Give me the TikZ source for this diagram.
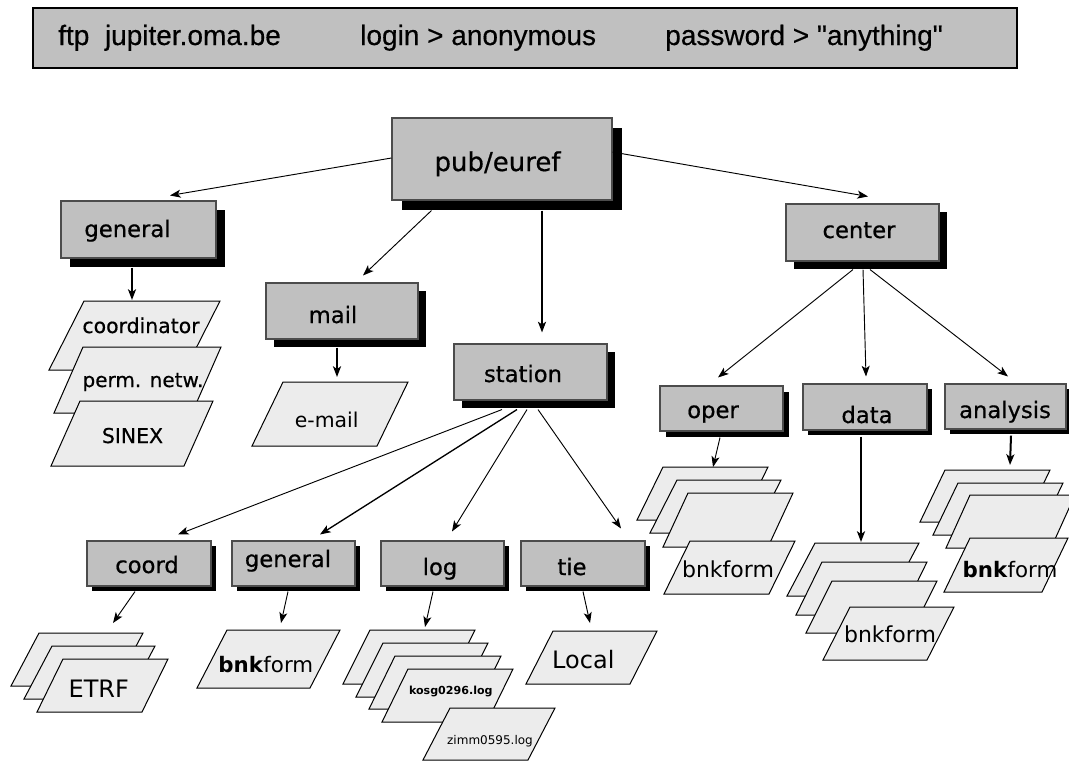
\documentclass[tikz,border=0pt]{standalone}
\usepackage{fontspec}
\setmainfont{DejaVu Sans}
\newfontfamily\medfont[FakeBold=0.6]{DejaVu Sans}
\newfontfamily\bannerfont[FakeBold=0.4]{Liberation Sans}
\usetikzlibrary{arrows.meta,calc,shadows}
\definecolor{boxgray}{HTML}{C0C0C0}
\definecolor{pgfill}{HTML}{ECECEC}
\newcommand\pgram[5]{\draw[pgs] (#1,#2) -- ++(#3,0) -- ++(-#5,#4) -- ++(-#3,0) -- cycle;}
\tikzset{
  banner/.style={draw=black, line width=1.6pt, fill=boxgray, inner sep=0pt},
  bt/.style={font=\bannerfont\fontsize{21}{25}\selectfont, inner sep=0pt, anchor=base west},
  gbox/.style={draw=black!70, line width=0.8pt, fill=boxgray, inner sep=0pt,
    drop shadow={shadow xshift=#1, shadow yshift=-#1, fill=black, opacity=1}},
  lbl/.style={font=\medfont\fontsize{17}{20}\selectfont, inner sep=0pt, anchor=base},
  plbl/.style={font=\fontsize{15.3}{18}\selectfont, inner sep=0pt, anchor=base},
  pgs/.style={draw=black, fill=pgfill, line width=0.75pt, line join=miter},
  arr/.style={-{Stealth[length=8pt,width=6pt,inset=2pt]}, line width=0.7pt},
  arrT/.style={arr, line width=1.5pt}
}
\begin{document}
\begin{tikzpicture}[x=0.75pt,y=-0.75pt]
\useasboundingbox (0,0) rectangle (1069,760);
\fill[white] (0,0) rectangle (1069,760);

% banner
\node[banner, minimum width=738pt, minimum height=45pt] (ban) at (525,38) {};
\node[bt] (ftp) at (58,45) {ftp\ \ jupiter.oma.be};
\node[bt] (login) at (360,45) {login > anonymous};
\node[bt] (pw) at (665,45) {password > "anything"};

% directory boxes
\node[gbox=7.5pt, minimum width=165pt, minimum height=61.5pt] (pub) at (502,159) {};
\node[lbl, font=\medfont\fontsize{19.5}{23}\selectfont] (pubL) at ($(pub.center)+(-4.5,12)$) {pub/euref};

\node[gbox=6.75pt, minimum width=116.25pt, minimum height=42.75pt] (gen1) at (138.5,229.5) {};
\node[lbl] (gen1L) at ($(gen1.center)+(-11,7.5)$) {general};

\node[gbox=6pt, minimum width=114pt, minimum height=42pt] (mail) at (342,311) {};
\node[lbl] (mailL) at ($(mail.center)+(-9,12)$) {mail};

\node[gbox=6pt, minimum width=114.75pt, minimum height=42pt] (station) at (530.5,372) {};
\node[lbl] (stationL) at ($(station.center)+(-7.5,10)$) {station};

\node[gbox=6pt, minimum width=114.75pt, minimum height=42.75pt] (center) at (862.5,232.5) {};
\node[lbl] (centerL) at ($(center.center)+(-3.5,5.5)$) {center};

\node[gbox=4.5pt, minimum width=92.25pt, minimum height=33.75pt] (oper) at (721.5,408.5) {};
\node[lbl] (operL) at ($(oper.center)+(-8.5,9.5)$) {oper};

\node[gbox=4.1pt, minimum width=93pt, minimum height=34.5pt] (data) at (865,407) {};
\node[lbl] (dataL) at ($(data.center)+(2,16)$) {data};

\node[gbox=3.75pt, minimum width=90.75pt, minimum height=33.75pt] (analysis) at (1005.5,406.5) {};
\node[lbl] (analysisL) at ($(analysis.center)+(-0.5,11.5)$) {analysis};

\node[gbox=3.75pt, minimum width=93pt, minimum height=33.75pt] (coord) at (149,563.5) {};
\node[lbl] (coordL) at ($(coord.center)+(-2,9.5)$) {coord};

\node[gbox=3.75pt, minimum width=92.25pt, minimum height=33.75pt] (gen2) at (293.5,563.5) {};
\node[lbl] (gen2L) at ($(gen2.center)+(-5.5,3.5)$) {general};

\node[gbox=4.1pt, minimum width=92.25pt, minimum height=33.75pt] (log) at (442.5,563.5) {};
\node[lbl] (logL) at ($(log.center)+(-2.5,11.5)$) {log};

\node[gbox=3.75pt, minimum width=93pt, minimum height=33.75pt] (tie) at (583,563.5) {};
\node[lbl] (tieL) at ($(tie.center)+(-11,11.5)$) {tie};

% file stacks: general
\pgram{84}{301}{136}{69}{35}
\node[plbl, font=\medfont\fontsize{15.3}{18}\selectfont] (coordinator) at (141,333) {coordinator};
\pgram{83}{347}{138}{66}{29}
\node[plbl, font=\medfont\fontsize{15}{18}\selectfont] (permnetw) at (143,387) {perm. netw.};
\pgram{80}{401}{133}{65}{29}
\node[plbl, font=\medfont\fontsize{15.3}{18}\selectfont] (sinex) at (132.5,443) {SINEX};

% mail
\pgram{283}{382}{125}{64}{31}
\node[plbl] (email) at (326.7,427) {e-mail};

% oper
\pgram{663}{467}{105}{53}{26}
\pgram{677}{480}{104}{53}{27}
\pgram{688}{493}{105}{54}{25}
\pgram{690}{541}{105}{53}{26}
\node[plbl, font=\fontsize{16.5}{19}\selectfont] (operbnk) at (728,577) {bnkform};

% data
\pgram{815}{543}{104}{53}{28}
\pgram{822}{562}{105}{53}{26}
\pgram{832}{581}{105}{52}{26}
\pgram{850}{607}{104}{53}{27}
\node[plbl, font=\fontsize{16.5}{19}\selectfont] (databnk) at (890,642) {bnkform};

% analysis
\pgram{945}{470}{105}{52}{25}
\pgram{958}{483}{105}{52}{25}
\pgram{970}{495}{105}{53}{24}
\pgram{970}{538}{98}{54}{26}
\node[plbl, font=\fontsize{16}{19}\selectfont] (anabnk) at (1010,577) {\textbf{bnk}form};

% coord
\pgram{39}{633}{104}{53}{28}
\pgram{52}{646}{103}{53}{28}
\pgram{63}{659}{105}{53}{26}
\node[plbl, font=\fontsize{18}{21}\selectfont] (etrf) at (98.8,697) {ETRF};

% general (station)
\pgram{227}{630}{113}{58}{30}
\node[plbl, font=\fontsize{16}{19}\selectfont] (g2bnk) at (265.8,672) {\textbf{bnk}form};

% log
\pgram{370}{630}{105}{54}{27}
\pgram{383}{643}{105}{54}{27}
\pgram{395}{656}{106}{53}{26}
\pgram{408}{669}{105}{53}{26}
\node[plbl, font=\bfseries\fontsize{8.3}{10}\selectfont] (kosg) at (450.8,694) {kosg0296.log};
\pgram{450}{708}{105}{52}{27}
\node[plbl, font=\fontsize{9}{11}\selectfont] (zimm) at (490,744) {zimm0595.log};

% tie
\pgram{553}{631}{104}{53}{27}
\node[plbl, font=\fontsize{18}{21}\selectfont] (local) at (583.3,668) {Local};

% arrow targets on the file stacks
\coordinate (coordIn) at (132,300);
\coordinate (emailIn) at (337,377);
\coordinate (operIn) at (713,467);
\coordinate (dataIn) at (861,542);
\coordinate (anaIn) at (1010,465);
\coordinate (etrfIn) at (113,623);
\coordinate (g2In) at (281,623);
\coordinate (logIn) at (425,627);
\coordinate (localIn) at (590,623);

% connectors
\draw[arr] ($(pub.west)+(0,-1)$) -- ($(gen1.north)+(31.5,-5)$);
\draw[arr] ($(pub.south west)+(40,10)$) -- ($(mail.north)+(21,-7)$);
\draw[arrT] ($(pub.south)+(40,10)$) -- ($(station.north)+(11.5,-11)$);
\draw[arr] ($(pub.east)+(0,-7)$) -- ($(center.north)+(5.5,-7)$);

\draw[arrT] ($(gen1.south)+(-6.5,9)$) -- (coordIn);
\draw[arrT] ($(mail.south)+(-5,8)$) -- (emailIn);

\draw[arr] ($(station.south)+(-28.5,9)$) -- ($(coord.north)+(29,-6)$);
\draw[arr, line width=1pt] ($(station.south)+(-13.5,9)$) -- ($(gen2.north)+(26.5,-6)$);
\draw[arr] ($(station.south)+(-3.5,9)$) -- ($(log.north)+(9.5,-9)$);
\draw[arr] ($(station.south)+(7.5,9)$) -- ($(tie.north)+(38,-12)$);

\draw[arr] ($(center.south)+(-9.5,8)$) -- ($(oper.north)+(-3.5,-8)$);
\draw[arr] ($(center.south)+(0.5,8)$) -- ($(data.north)+(1,-7)$);
\draw[arr] ($(center.south)+(7.5,8)$) -- ($(analysis.north)+(2.5,-7)$);

\draw[arr] ($(oper.south)+(-1.5,6)$) -- (operIn);
\draw[arrT] ($(data.south)+(-4,6)$) -- (dataIn);
\draw[arrT] ($(analysis.south)+(5.5,6)$) -- (anaIn);

\draw[arr] ($(coord.south)+(-14,5)$) -- (etrfIn);
\draw[arr] ($(gen2.south)+(-5.5,5)$) -- (g2In);
\draw[arr] ($(log.south)+(-9.5,5)$) -- (logIn);
\draw[arr] ($(tie.south)+(0,5)$) -- (localIn);
\end{tikzpicture}
\end{document}
